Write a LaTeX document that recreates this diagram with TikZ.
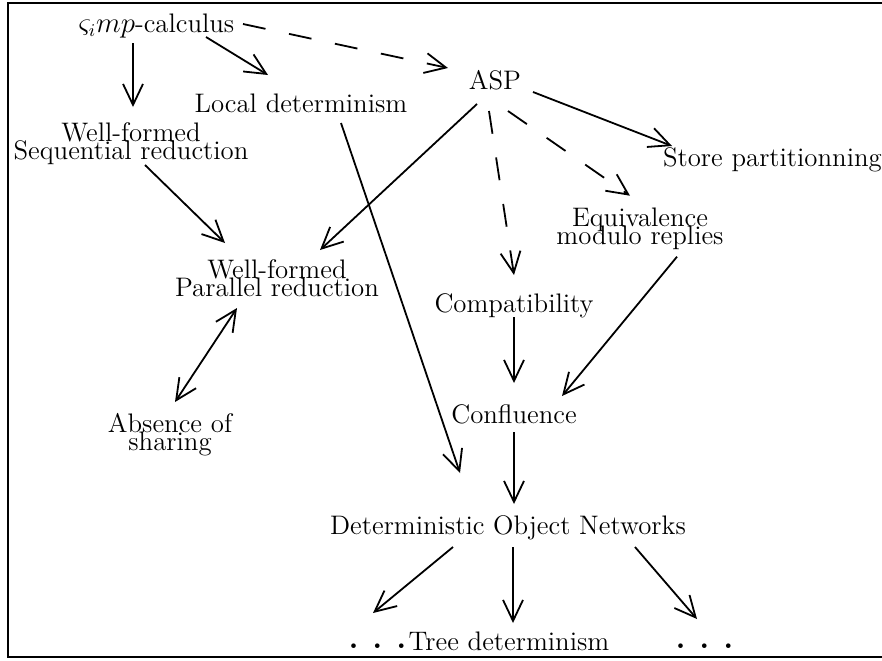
\documentclass[tikz,border=0pt]{standalone}
\usetikzlibrary{arrows.meta,calc}
\newcommand{\lblfont}{\fontsize{13.4}{9}\selectfont\setlength{\lineskiplimit}{-100pt}}
\newcommand{\bigdot}{\raisebox{1pt}{\fontsize{16}{16}\selectfont\bfseries .}}
\begin{document}
\begin{tikzpicture}[x=0.5pt,y=-0.5pt,
  lbl/.style={inner sep=0pt,outer sep=0pt,anchor=base,align=center,font=\lblfont},
  conn/.style={line width=0.9pt,-{Straight Barb[length=10.5pt,width=10pt,line width=0.9pt]}},
  both/.style={line width=0.9pt,{Straight Barb[length=10.5pt,width=10pt,line width=0.9pt]}-{Straight Barb[length=10.5pt,width=10pt,line width=0.9pt]}},
  dconn/.style={conn,dash pattern=on 11.5pt off 12pt}]
\useasboundingbox (0,0) rectangle (882,660);
\draw[line width=1pt] (7.5,3) rectangle (900,657);
% nodes
\node[lbl] (calc) at (156.5,32) {$\varsigma_i mp$-calculus};
\node[lbl] (loc) at (301,112) {Local determinism};
\node[lbl] (seq) at (131,159.5) {Well-formed\\Sequential reduction};
\node[lbl] (asp) at (495,89) {ASP};
\node[lbl,anchor=base west] (store) at (663,166) {Store partitionning};
\node[lbl] (equiv) at (640,244) {Equivalence\\modulo replies};
\node[lbl] (par) at (277,296) {Well-formed\\Parallel reduction};
\node[lbl] (abs) at (170,450) {Absence of\\sharing};
\node[lbl] (comp) at (514,312) {Compatibility};
\node[lbl] (conf) at (514,423) {Confluence};
\node[lbl] (don) at (508,534) {Deterministic Object Networks};
\node[lbl] (tree) at (509,650) {Tree determinism};
\node[lbl] (dotsL) at (377.5,650) {\bigdot\hspace{6.9pt}\bigdot\hspace{6.9pt}\bigdot};
\node[lbl] (dotsR) at (704.5,650) {\bigdot\hspace{6.9pt}\bigdot\hspace{6.9pt}\bigdot};
% connectors
\draw[conn] ($(calc.base)+(-23.5,11)$) -- ($(seq.base)+(2,-52.5)$);
\draw[conn] ($(calc.base)+(49.5,5)$) -- ($(loc.base)+(-33,-37)$);
\draw[dconn] ($(calc.base)+(86.5,-8)$) -- ($(asp.base)+(-47,-21)$);
\draw[conn] ($(asp.base)+(-18,15)$) -- ($(par.base)+(43,-46)$);
\draw[conn] ($(asp.base)+(38,3)$) -- ($(store.base west)+(9,-20)$);
\draw[dconn] ($(asp.base)+(-6,22)$) -- ($(comp.base)+(0,-37)$);
\draw[dconn] ($(asp.base)+(13,22)$) -- ($(equiv.base)+(-10,-48.3)$);
\draw[conn] ($(loc.base)+(40,11)$) -- ($(don.base)+(-48,-61)$);
\draw[conn] ($(seq.base)+(14,5.5)$) -- ($(par.base)+(-52,-53)$);
\draw[both] ($(par.base)+(-40,12)$) -- ($(abs.base)+(5,-48)$);
\draw[conn] ($(equiv.base)+(37,12.7)$) -- ($(conf.base)+(48,-27)$);
\draw[conn] ($(comp.base)+(0,5)$) -- ($(conf.base)+(0,-40)$);
\draw[conn] ($(conf.base)+(0,9)$) -- ($(don.base)+(6,-30)$);
\draw[conn] ($(don.base)+(-55,13)$) -- ($(dotsL.base)+(-4.5,-37)$);
\draw[conn] ($(don.base)+(5,13)$) -- ($(tree.base)+(4,-27)$);
\draw[conn] ($(don.base)+(127,13)$) -- ($(dotsR.base)+(-7.5,-31)$);
\end{tikzpicture}
\end{document}
